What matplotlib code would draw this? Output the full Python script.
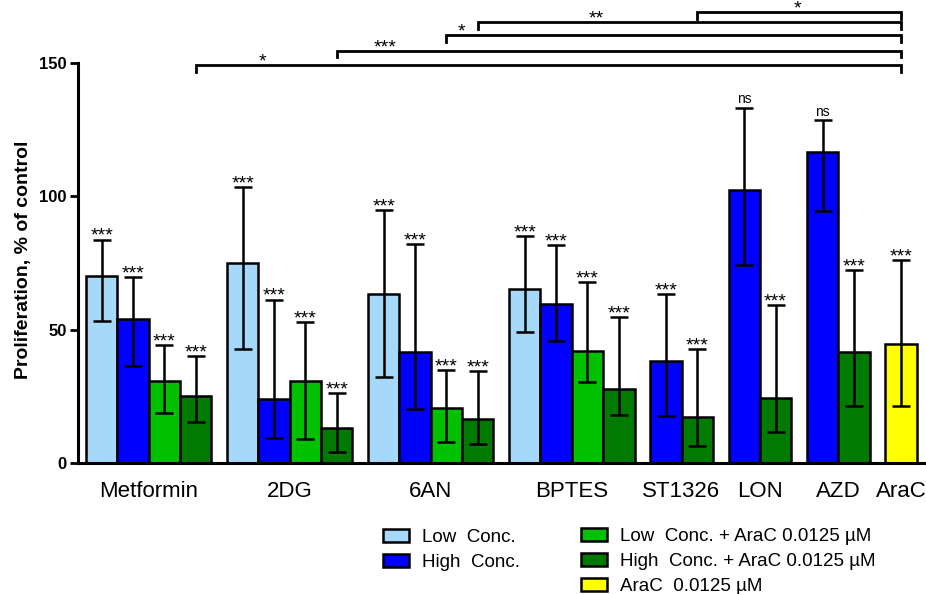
import matplotlib
matplotlib.use("Agg")
import matplotlib.pyplot as plt
from matplotlib.patches import Patch

plt.rcParams['font.family'] = ['Liberation Sans', 'DejaVu Sans']

# ---- data -------------------------------------------------------------
groups = ["Metformin", "2DG", "6AN", "BPTES", "ST1326", "LON", "AZD", "AraC"]

series_names = ["Low  Conc.", "High  Conc.",
                "Low  Conc. + AraC 0.0125 µM",
                "High  Conc. + AraC 0.0125 µM",
                "AraC  0.0125 µM"]
series_colors = ["#a6d8fa", "#0000ff", "#00c000", "#007a00", "#ffff00"]

# mean proliferation (% of control); None = condition not tested
low_mean   = [70.3, 75.1, 63.4, 65.4, None, None, None, None]
high_mean  = [54.1, 23.9, 41.8, 59.6, 38.1, 102.4, 116.8, None]
lowa_mean  = [30.6, 30.6, 20.7, 42.0, None, None, None, None]
higha_mean = [25.2, 13.0, 16.4, 27.6, 17.3, 24.4, 41.5, None]
arac_mean  = [None, None, None, None, None, None, None, 44.5]

# lower / upper ends of the error bars
low_lo   = [53.1, 42.9, 32.1, 49.2, None, None, None, None]
low_hi   = [83.8, 103.5, 94.7, 85.2, None, None, None, None]
high_lo  = [36.2, 9.3, 20.3, 45.9, 17.5, 74.2, 94.6, None]
high_hi  = [69.8, 61.3, 82.0, 81.7, 63.3, 133.3, 128.7, None]
lowa_lo  = [18.9, 9.1, 8.0, 30.3, None, None, None, None]
lowa_hi  = [44.1, 52.7, 35.0, 67.8, None, None, None, None]
higha_lo = [15.3, 4.0, 7.3, 18.0, 6.3, 11.8, 21.4, None]
higha_hi = [40.2, 26.2, 34.6, 54.6, 42.7, 59.3, 72.3, None]
arac_lo  = [None, None, None, None, None, None, None, 21.4]
arac_hi  = [None, None, None, None, None, None, None, 76.1]

# significance vs. control
low_sig   = ["***", "***", "***", "***", None, None, None, None]
high_sig  = ["***", "***", "***", "***", "***", "ns", "ns", None]
lowa_sig  = ["***", "***", "***", "***", None, None, None, None]
higha_sig = ["***", "***", "***", "***", "***", "***", "***", None]
arac_sig  = [None, None, None, None, None, None, None, "***"]

# comparisons against AraC alone
bracket_groups = ["Metformin", "2DG", "6AN", "6AN", "ST1326"]
bracket_series = [3, 3, 2, 3, 3]
bracket_labels = ["*", "***", "*", "**", "*"]
bracket_levels = [149.2, 154.6, 160.5, 165.3, 169.0]
bracket_label_frac = [0.094, 0.086, 0.033, 0.28, 0.49]

means = [low_mean, high_mean, lowa_mean, higha_mean, arac_mean]
lows = [low_lo, high_lo, lowa_lo, higha_lo, arac_lo]
highs = [low_hi, high_hi, lowa_hi, higha_hi, arac_hi]
sigs = [low_sig, high_sig, lowa_sig, higha_sig, arac_sig]

# ---- layout: consecutive bars, half-bar gap between groups -------------
positions = {}
group_centers = []
cursor = 0.0
for gi in range(len(groups)):
    xs = []
    for si in range(len(means)):
        if means[si][gi] is not None:
            positions[(gi, si)] = cursor + 0.5
            xs.append(cursor + 0.5)
            cursor += 1.0
    group_centers.append(sum(xs) / len(xs))
    cursor += 0.5

fig = plt.figure(figsize=(9.26, 5.94), dpi=100)
ax = fig.add_axes([78 / 926, 131 / 594, 848 / 926, 400 / 594])

LW = 1.8
for si in range(len(means)):
    xs, ys, elo, ehi = [], [], [], []
    for gi in range(len(groups)):
        m = means[si][gi]
        if m is None:
            continue
        x = positions[(gi, si)]
        xs.append(x)
        ys.append(m)
        elo.append(m - lows[si][gi])
        ehi.append(highs[si][gi] - m)
    ax.bar(xs, ys, width=1.0, color=series_colors[si], edgecolor='black',
           linewidth=LW, zorder=2)
    ax.errorbar(xs, ys, yerr=[elo, ehi], fmt='none', ecolor='black',
                elinewidth=LW, capsize=6.5, capthick=LW, zorder=3)
    for gi in range(len(groups)):
        s = sigs[si][gi]
        if s is None:
            continue
        x = positions[(gi, si)]
        top = highs[si][gi]
        if s == "ns":
            ax.annotate(s, (x, top), xytext=(0, 3), textcoords='offset points',
                        ha='center', va='baseline', fontsize=10, zorder=4)
        else:
            ax.annotate(s, (x, top), xytext=(0, -1), textcoords='offset points',
                        ha='center', va='baseline', fontsize=14, zorder=4)

# comparison brackets above the plot area
end_x = positions[(groups.index("AraC"), 4)]
tick_len = 2.5
for g, si, lab, lev, frac in zip(bracket_groups, bracket_series, bracket_labels,
                                 bracket_levels, bracket_label_frac):
    x0 = positions[(groups.index(g), si)]
    ax.plot([x0, x0, end_x, end_x], [lev - tick_len, lev, lev, lev - tick_len],
            color='black', lw=2.0, solid_joinstyle='miter', clip_on=False, zorder=5)
    ax.annotate(lab, (x0 + frac * (end_x - x0), lev), xytext=(0, -1),
                textcoords='offset points', ha='center', va='baseline',
                fontsize=14, annotation_clip=False)

# ---- axes styling -------------------------------------------------------
ax.set_xlim(-0.255, 26.8)
ax.set_ylim(0, 150)
ax.set_yticks([0, 50, 100, 150])
ax.set_yticklabels(["0", "50", "100", "150"], fontsize=12, fontweight='bold')
ax.set_xticks(group_centers)
ax.set_xticklabels(groups, fontsize=16)
ax.tick_params(axis='x', length=0, pad=13.3)
ax.tick_params(axis='y', length=5.8, width=2.0, pad=2.4)
for side in ('top', 'right'):
    ax.spines[side].set_visible(False)
for side in ('left', 'bottom'):
    ax.spines[side].set_linewidth(2.2)
ax.set_ylabel("Proliferation, % of control", fontsize=14, fontweight='bold',
              va='center')
ax.yaxis.set_label_coords(-0.0646, 0.5075)

# ---- legend ---------------------------------------------------------------
handles = [Patch(facecolor=c, edgecolor='black', linewidth=1.8) for c in series_colors]
common = dict(loc='upper left', frameon=False, fontsize=13.5, handlelength=1.39,
              handleheight=0.69, handletextpad=0.71, labelspacing=0.43,
              borderpad=0, borderaxespad=0)
fig.legend(handles[:2], series_names[:2],
           bbox_to_anchor=(383 / 926, 1 - 529 / 594), **common)
fig.legend(handles[2:], series_names[2:],
           bbox_to_anchor=(580.7 / 926, 1 - 528 / 594), **common)

fig.savefig("out.png", dpi=100)
